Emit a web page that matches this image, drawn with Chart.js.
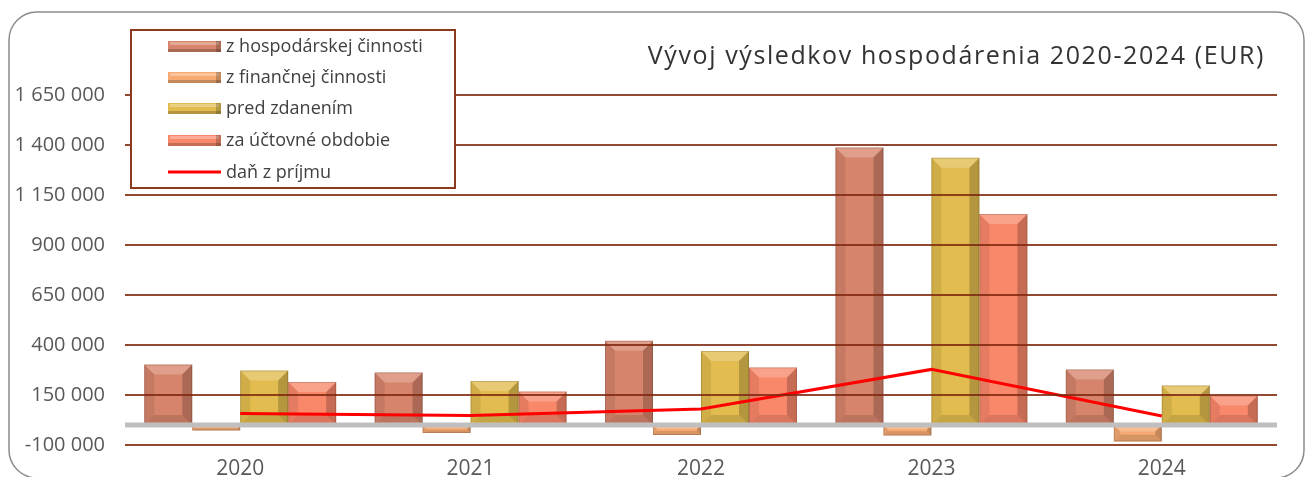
<!DOCTYPE html>
<html>
<head>
<meta charset="utf-8">
<title>Vývoj výsledkov hospodárenia 2020-2024 (EUR)</title>
<script src="https://cdn.jsdelivr.net/npm/chart.js@4.4.1/dist/chart.umd.min.js"></script>
<style>
html, body { margin: 0; padding: 0; background: #fff; }
#wrap { position: relative; width: 1306px; height: 477px; }
</style>
</head>
<body>
<div id="wrap"><canvas id="chart" width="1306" height="477"></canvas></div>
<script>
// data
const years = ['2020', '2021', '2022', '2023', '2024'];
const hospodarska = [302000, 263000, 421000, 1388000, 278000];
const financna = [-28000, -40000, -50000, -53000, -82000];
const predZdanenim = [272000, 220000, 370000, 1336000, 198000];
const zaObdobie = [215000, 167000, 288000, 1055000, 147000];
const danZPrijmu = [57000, 48000, 80000, 278000, 45000];
const yTicks = [-100000, 150000, 400000, 650000, 900000, 1150000, 1400000, 1650000];

const chartTitle = 'Vývoj výsledkov hospodárenia 2020-2024 (EUR)';
const FONT = '"Open Sans", sans-serif';

function fmt(v) {
    return String(v).replace(/\B(?=(\d{3})+(?!\d))/g, ' ');
}

// bevelled look of the excel columns
function bevel(ctx, el) {
    const p = el.getProps(['x', 'y', 'base', 'width'], true);
    const l = p.x - p.width / 2, r = p.x + p.width / 2;
    const t = Math.min(p.y, p.base), b = Math.max(p.y, p.base);
    const h = b - t;
    const s = Math.min(10, h / 2.5, p.width / 4);
    ctx.save();
    ctx.fillStyle = 'rgba(255,255,255,0.22)';
    ctx.beginPath();
    ctx.moveTo(l, t); ctx.lineTo(r, t); ctx.lineTo(r - s, t + s); ctx.lineTo(l + s, t + s);
    ctx.fill();
    ctx.fillStyle = 'rgba(0,0,0,0.2)';
    ctx.beginPath();
    ctx.moveTo(r, t); ctx.lineTo(r, b); ctx.lineTo(r - s, b - s); ctx.lineTo(r - s, t + s);
    ctx.fill();
    ctx.fillStyle = 'rgba(0,0,0,0.08)';
    ctx.beginPath();
    ctx.moveTo(l, t); ctx.lineTo(l, b); ctx.lineTo(l + s, b - s); ctx.lineTo(l + s, t + s);
    ctx.fill();
    ctx.fillStyle = 'rgba(0,0,0,0.12)';
    ctx.beginPath();
    ctx.moveTo(l, b); ctx.lineTo(r, b); ctx.lineTo(r - s, b - s); ctx.lineTo(l + s, b - s);
    ctx.fill();
    ctx.strokeStyle = 'rgba(0,0,0,0.15)';
    ctx.lineWidth = 1;
    ctx.strokeRect(l + 0.5, t + 0.5, p.width - 1, h - 1);
    ctx.restore();
}

const decor = {
    id: 'decor',
    beforeDraw(chart) {
        const ctx = chart.ctx;
        ctx.save();
        ctx.fillStyle = '#fff';
        ctx.fillRect(0, 0, chart.width, chart.height);
        ctx.strokeStyle = '#8c8c8c';
        ctx.lineWidth = 1.5;
        ctx.beginPath();
        ctx.roundRect(9, 12, 1295, 466, 28);
        ctx.stroke();
        ctx.restore();
    },
    afterDatasetDraw(chart, args) {
        const ds = chart.data.datasets[args.index];
        if (ds.type === 'line') return;
        args.meta.data.forEach(el => bevel(chart.ctx, el));
        if (args.index === 0) {
            // zero line after the last bar dataset is drawn (drawn in reverse)
            const ctx = chart.ctx, a = chart.chartArea;
            const y0 = chart.scales.y.getPixelForValue(0);
            ctx.save();
            ctx.strokeStyle = '#bfbfbf';
            ctx.lineWidth = 5;
            ctx.beginPath();
            ctx.moveTo(a.left, y0); ctx.lineTo(a.right, y0);
            ctx.stroke();
            ctx.restore();
        }
    },
    afterDraw(chart) {
        const ctx = chart.ctx;
        ctx.save();
        // title
        ctx.font = '25px ' + FONT;
        ctx.fillStyle = '#333';
        ctx.textAlign = 'right';
        ctx.textBaseline = 'middle';
        ctx.letterSpacing = '1.6px';
        ctx.fillText(chartTitle, 1265, 57);
        ctx.letterSpacing = '0px';

        // legend box
        ctx.fillStyle = '#fff';
        ctx.fillRect(131, 30, 324, 158);
        ctx.strokeStyle = '#8b3a1e';
        ctx.lineWidth = 2;
        ctx.strokeRect(131, 30, 324, 158);
        const rowY = [46, 77, 108, 140, 172];
        ctx.font = '18px ' + FONT;
        ctx.textAlign = 'left';
        chart.data.datasets.forEach((ds, i) => {
            const y = rowY[i];
            if (ds.type === 'line') {
                ctx.strokeStyle = ds.borderColor;
                ctx.lineWidth = 3;
                ctx.beginPath();
                ctx.moveTo(168, y); ctx.lineTo(221, y);
                ctx.stroke();
            } else {
                ctx.fillStyle = ds.backgroundColor;
                ctx.fillRect(168, y - 5, 53, 11);
                ctx.fillStyle = 'rgba(255,255,255,0.3)';
                ctx.fillRect(170, y - 4, 49, 3);
                ctx.fillStyle = 'rgba(0,0,0,0.2)';
                ctx.fillRect(168, y + 3, 53, 3);
                ctx.fillRect(216, y - 5, 5, 11);
            }
            ctx.fillStyle = '#404040';
            ctx.fillText(ds.label, 226, y + 1);
        });
        ctx.restore();
    }
};

const barCommon = {
    barPercentage: 1,
    categoryPercentage: 0.833,
    borderWidth: 0,
    order: 1
};

const ctx = document.getElementById('chart').getContext('2d');
window.chart = new Chart(ctx, {
    type: 'bar',
    data: {
        labels: years,
        datasets: [
            Object.assign({ label: 'z hospodárskej činnosti', data: hospodarska, backgroundColor: '#d6846b' }, barCommon),
            Object.assign({ label: 'z finančnej činnosti', data: financna, backgroundColor: '#f6aa72' }, barCommon),
            Object.assign({ label: 'pred zdanením', data: predZdanenim, backgroundColor: '#e2bc4e' }, barCommon),
            Object.assign({ label: 'za účtovné obdobie', data: zaObdobie, backgroundColor: '#f9876a' }, barCommon),
            {
                type: 'line',
                label: 'daň z príjmu',
                data: danZPrijmu,
                borderColor: '#ff0000',
                backgroundColor: '#ff0000',
                borderWidth: 3,
                pointRadius: 0,
                tension: 0,
                order: 0
            }
        ]
    },
    options: {
        responsive: false,
        devicePixelRatio: 1,
        animation: false,
        layout: { padding: { left: 0, right: 29, top: 95, bottom: 0 } },
        plugins: {
            legend: { display: false },
            title: { display: false },
            tooltip: { enabled: false }
        },
        scales: {
            x: {
                grid: { display: false },
                border: { display: false },
                ticks: { color: '#595959', font: { family: FONT, size: 21 }, padding: 3 },
                afterFit(scale) { scale.height = 32; }
            },
            y: {
                min: -100000,
                max: 1650000,
                afterBuildTicks(scale) { scale.ticks = yTicks.map(v => ({ value: v })); },
                afterFit(scale) { scale.width = 125; },
                grid: { color: 'rgba(128,40,15,0.85)', lineWidth: 2, drawTicks: false, z: 1 },
                border: { display: false },
                ticks: {
                    color: '#595959',
                    font: { family: FONT, size: 20 },
                    padding: 20,
                    callback: v => fmt(v)
                }
            }
        }
    },
    plugins: [decor]
});
</script>
</body>
</html>
